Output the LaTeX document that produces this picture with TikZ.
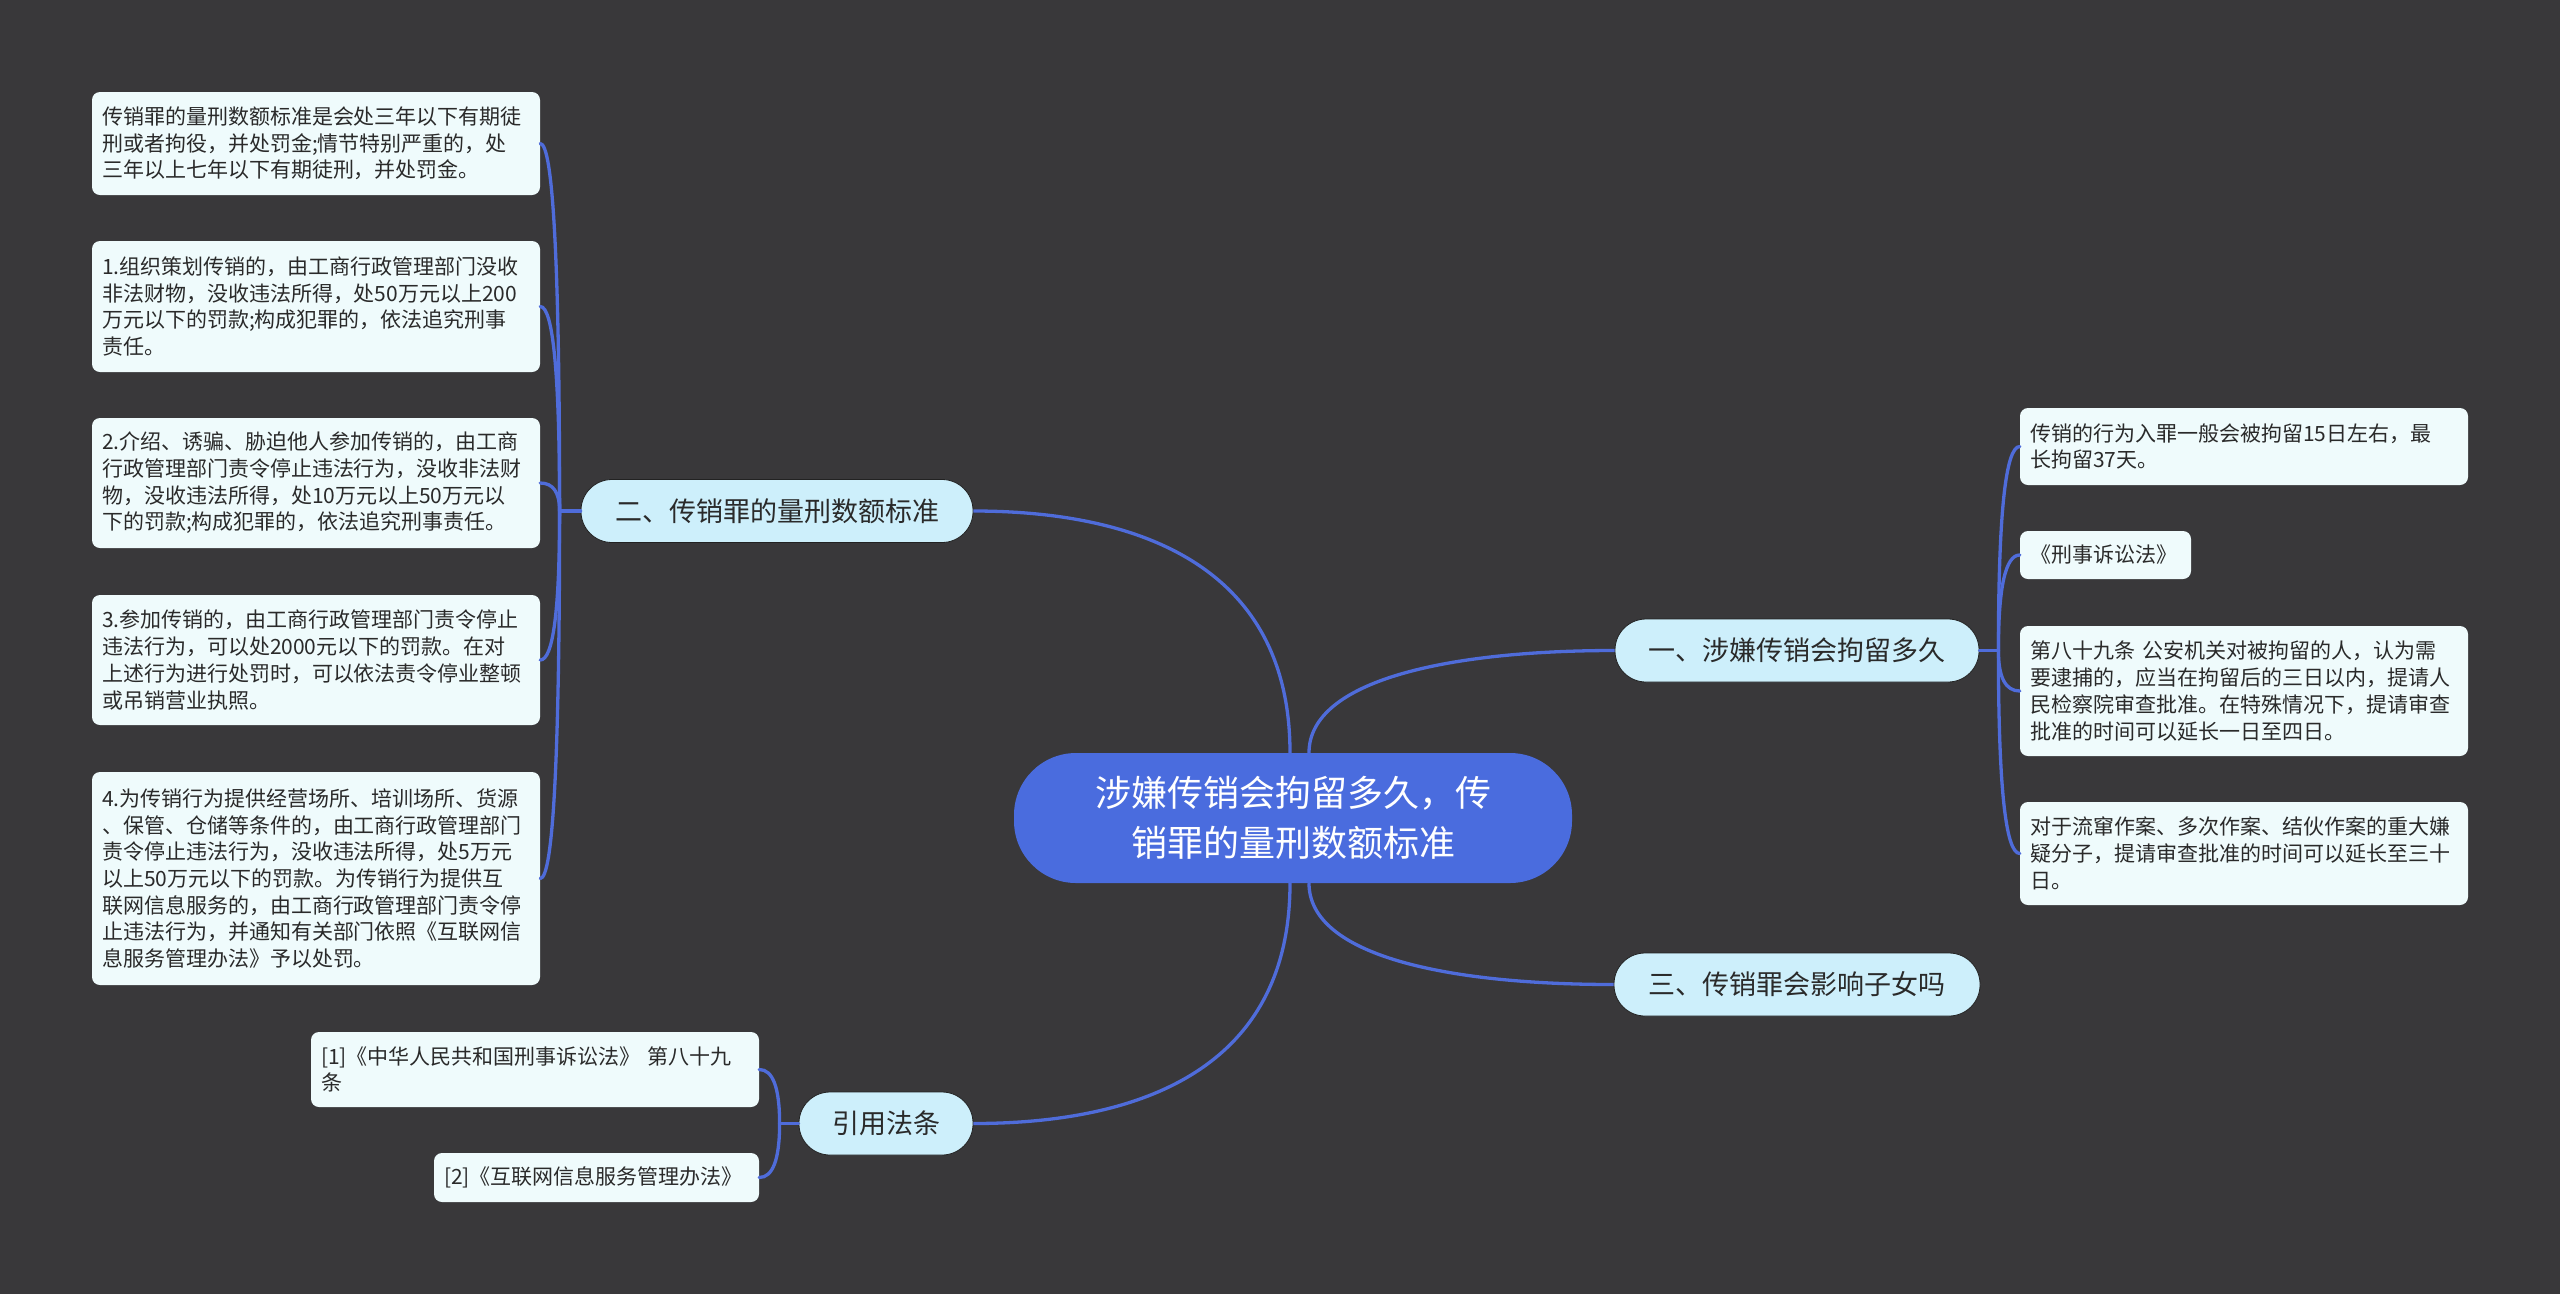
\documentclass[tikz,border=0pt]{standalone}
\usepackage{fontspec}
\setmainfont{Noto Sans CJK SC}
\usetikzlibrary{calc}
\definecolor{bg}{HTML}{39383A}
\definecolor{ctr}{HTML}{4A6CDE}
\definecolor{brf}{HTML}{CDEFFB}
\definecolor{lff}{HTML}{EFFBFC}
\definecolor{lnc}{HTML}{4F6CDA}
\definecolor{txc}{HTML}{2A2A2A}
\definecolor{edge}{HTML}{222222}
\begin{document}
\begin{tikzpicture}[x=1pt,y=-1pt,
  leaf/.style={fill=lff, rounded corners=8pt, text=txc, align=left, inner xsep=10pt, inner ysep=0pt,
    font=\fontsize{21pt}{26.7pt}\selectfont},
  branch/.style={fill=brf, draw=edge, line width=0.8pt, rounded corners=31pt, text=txc, align=center,
    inner sep=0pt, minimum height=63pt, font=\fontsize{27pt}{32pt}\selectfont},
  central/.style={fill=ctr, rounded corners=62pt, text=white, align=center, inner sep=0pt,
    minimum width=558pt, minimum height=130pt, font=\fontsize{36pt}{50pt}\selectfont},
  mainline/.style={draw=lnc, line width=3.3pt},
  leafline/.style={draw=lnc, line width=3.3pt, line cap=round}
]
\useasboundingbox (0,0) rectangle (2560,1294);
\fill[bg] (0,0) rectangle (2560,1294);

% central
\node[central] (c) at (1293,818) {涉嫌传销会拘留多久，传\\销罪的量刑数额标准};

% branches
\node[branch, minimum width=392pt] (b2) at (777,511) {二、传销罪的量刑数额标准};
\node[branch, minimum width=364pt] (b1) at (1797,650.5) {一、涉嫌传销会拘留多久};
\node[branch, minimum width=366pt] (b3) at (1797,984.5) {三、传销罪会影响子女吗};
\node[branch, minimum width=174pt] (b4) at (886,1123.5) {引用法条};

% left leaves
\node[leaf, minimum width=448pt, minimum height=103pt, text width=428pt] (la) at (316,143.5)
{传销罪的量刑数额标准是会处三年以下有期徒\\刑或者拘役，并处罚金;情节特别严重的，处\\三年以上七年以下有期徒刑，并处罚金。};
\node[leaf, minimum width=448pt, minimum height=131pt, text width=428pt] (lb) at (316,306.5)
{1.组织策划传销的，由工商行政管理部门没收\\非法财物，没收违法所得，处50万元以上200\\万元以下的罚款;构成犯罪的，依法追究刑事\\责任。};
\node[leaf, minimum width=448pt, minimum height=130pt, text width=428pt] (lc) at (316,483)
{2.介绍、诱骗、胁迫他人参加传销的，由工商\\行政管理部门责令停止违法行为，没收非法财\\物，没收违法所得，处10万元以上50万元以\\下的罚款;构成犯罪的，依法追究刑事责任。};
\node[leaf, minimum width=448pt, minimum height=130pt, text width=428pt] (ld) at (316,660)
{3.参加传销的，由工商行政管理部门责令停止\\违法行为，可以处2000元以下的罚款。在对\\上述行为进行处罚时，可以依法责令停业整顿\\或吊销营业执照。};
\node[leaf, minimum width=448pt, minimum height=213pt, text width=428pt] (le) at (316,878.5)
{4.为传销行为提供经营场所、培训场所、货源\\、保管、仓储等条件的，由工商行政管理部门\\责令停止违法行为，没收违法所得，处5万元\\以上50万元以下的罚款。为传销行为提供互\\联网信息服务的，由工商行政管理部门责令停\\止违法行为，并通知有关部门依照《互联网信\\息服务管理办法》予以处罚。};

% citation leaves
\node[leaf, minimum width=448pt, minimum height=75pt, text width=428pt] (lf) at (535,1069.5)
{[1]《中华人民共和国刑事诉讼法》 第八十九\\条};
\node[leaf, minimum width=325pt, minimum height=49pt, text width=305pt] (lg) at (596.5,1177.5)
{[2]《互联网信息服务管理办法》};

% right leaves
\node[leaf, minimum width=448pt, minimum height=77pt, text width=428pt] (ra) at (2244,446.5)
{传销的行为入罪一般会被拘留15日左右，最\\长拘留37天。};
\node[leaf, minimum width=171pt, minimum height=48pt, text width=151pt] (rb) at (2105.5,555)
{《刑事诉讼法》};
\node[leaf, minimum width=448pt, minimum height=130pt, text width=428pt] (rc) at (2244,691)
{第八十九条 公安机关对被拘留的人，认为需\\要逮捕的，应当在拘留后的三日以内，提请人\\民检察院审查批准。在特殊情况下，提请审查\\批准的时间可以延长一日至四日。};
\node[leaf, minimum width=448pt, minimum height=103pt, text width=428pt] (rd) at (2244,853.5)
{对于流窜作案、多次作案、结伙作案的重大嫌\\疑分子，提请审查批准的时间可以延长至三十\\日。};

% main connectors
\draw[mainline] ([xshift=-3pt]c.north) .. controls +(0,-190) and +(160,0) .. (b2.east);
\draw[mainline] ([xshift=16pt]c.north) .. controls +(0,-73) and +(-165,0) .. (b1.west);
\draw[mainline] ([xshift=16pt]c.south) .. controls +(0,73) and +(-165,0) .. (b3.west);
\draw[mainline] ([xshift=-3pt]c.south) .. controls +(0,190) and +(160,0) .. (b4.east);

% trunks
\coordinate (t2) at ($(b2.west)+(-21,0)$);
\coordinate (t1) at ($(b1.east)+(19,0)$);
\coordinate (t4) at ($(b4.west)+(-19,0)$);
\draw[leafline] (b2.west) -- (t2);
\draw[leafline] (b1.east) -- (t1);
\draw[leafline] (b4.west) -- (t4);

% leaf connectors (quadratic-like bends)
\foreach \n in {la,lb,lc,ld,le}{
  \draw[leafline] (t2) .. controls ($(t2)!0.667!(t2 |- \n.east)$) and ($(\n.east)!0.667!(t2 |- \n.east)$) .. (\n.east);
}
\foreach \n in {ra,rb,rc,rd}{
  \draw[leafline] (t1) .. controls ($(t1)!0.667!(t1 |- \n.west)$) and ($(\n.west)!0.667!(t1 |- \n.west)$) .. (\n.west);
}
\foreach \n in {lf,lg}{
  \draw[leafline] (t4) .. controls ($(t4)!0.667!(t4 |- \n.east)$) and ($(\n.east)!0.667!(t4 |- \n.east)$) .. (\n.east);
}
\end{tikzpicture}
\end{document}
